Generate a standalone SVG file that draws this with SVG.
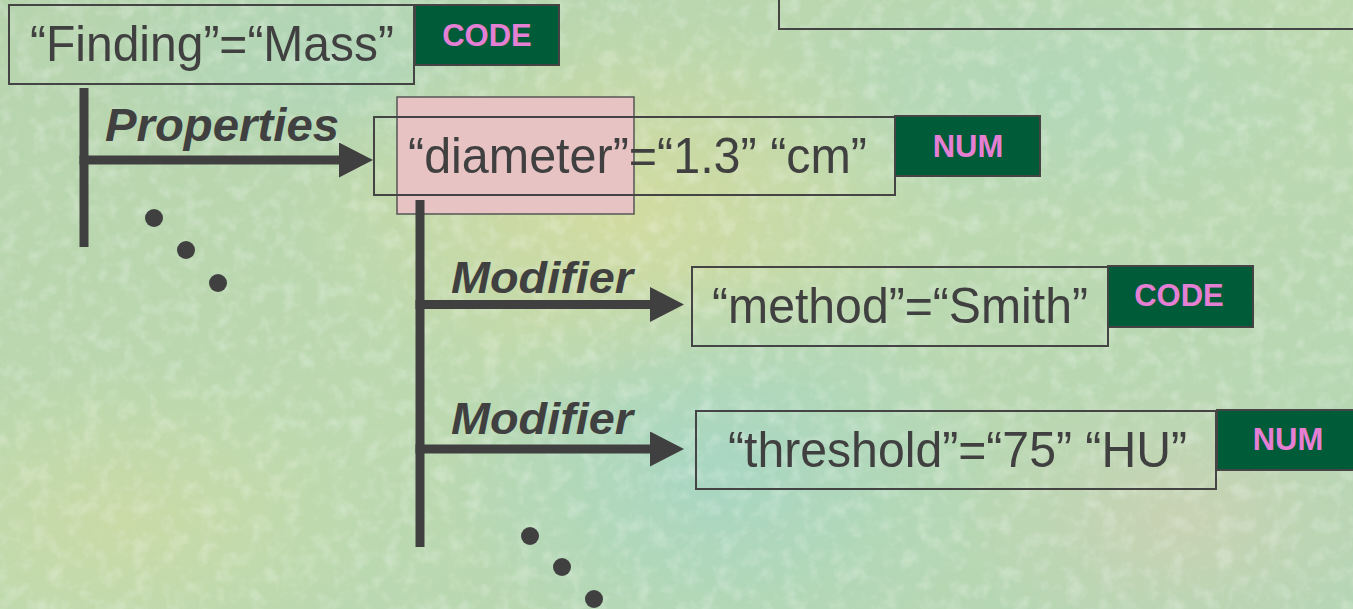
<svg xmlns="http://www.w3.org/2000/svg" width="1353" height="609" viewBox="0 0 1353 609">
  <defs>
    <linearGradient id="bg" x1="0" y1="0" x2="1" y2="1">
      <stop offset="0" stop-color="#b6d4ae"/>
      <stop offset="0.5" stop-color="#bcd9b0"/>
      <stop offset="1" stop-color="#b4d6b4"/>
    </linearGradient>
    <radialGradient id="yel" cx="0.5" cy="0.5" r="0.5">
      <stop offset="0" stop-color="#d8dc9c" stop-opacity="0.8"/>
      <stop offset="1" stop-color="#d8dc9c" stop-opacity="0"/>
    </radialGradient>
    <radialGradient id="cyan" cx="0.5" cy="0.5" r="0.5">
      <stop offset="0" stop-color="#a2d6c8" stop-opacity="0.75"/>
      <stop offset="1" stop-color="#a2d6c8" stop-opacity="0"/>
    </radialGradient>
    <radialGradient id="pinkish" cx="0.5" cy="0.5" r="0.5">
      <stop offset="0" stop-color="#d4d0b4" stop-opacity="0.6"/>
      <stop offset="1" stop-color="#d4d0b4" stop-opacity="0"/>
    </radialGradient>
    <filter id="tex" x="0" y="0" width="100%" height="100%">
      <feTurbulence type="fractalNoise" baseFrequency="0.06" numOctaves="3" seed="7" result="n"/>
      <feColorMatrix in="n" type="matrix" values="0 0 0 0 1  0 0 0 0 1  0 0 0 0 1  0 0 0 -2.4 1.3" result="m"/>
      <feComposite in="m" in2="SourceGraphic" operator="in"/>
    </filter>
    <marker id="head" markerUnits="userSpaceOnUse" markerWidth="36" markerHeight="36" refX="0" refY="17.5" orient="auto" viewBox="0 0 36 36">
      <path d="M0,0 L34,17.5 L0,35 Z" fill="#404040"/>
    </marker>
    <style>
      .box { fill: none; stroke: #444; stroke-width: 2; }
      .tag { fill: #005c38; stroke: #444; stroke-width: 2; }
      .val { font-family: "Liberation Sans", Arial, sans-serif; font-size: 50px; fill: #404040; }
      .tagt { font-family: "Liberation Sans", Arial, sans-serif; font-size: 31px; font-weight: bold; fill: #e57fd4; text-anchor: middle; }
      .lbl { font-family: "Liberation Sans", Arial, sans-serif; font-weight: bold; font-style: italic; fill: #404040; }
      .wire { stroke: #404040; stroke-width: 9; fill: none; }
      .dot { fill: #404040; }
    </style>
  </defs>

  <!-- background -->
  <rect width="1353" height="609" fill="url(#bg)"/>
  <ellipse cx="620" cy="210" rx="330" ry="200" fill="url(#yel)"/>
  <ellipse cx="120" cy="520" rx="260" ry="160" fill="url(#yel)" opacity="0.6"/>
  <ellipse cx="720" cy="470" rx="280" ry="200" fill="url(#cyan)"/>
  <ellipse cx="1050" cy="90" rx="300" ry="140" fill="url(#cyan)" opacity="0.5"/>
  <ellipse cx="330" cy="60" rx="260" ry="120" fill="url(#cyan)" opacity="0.45"/>
  <ellipse cx="1180" cy="520" rx="220" ry="140" fill="url(#pinkish)"/>
  <rect width="1353" height="609" fill="#fff" filter="url(#tex)" opacity="0.25"/>

  <!-- top-right partial box -->
  <g id="partial-box">
    <rect class="box" x="779" y="-20" width="600" height="49"/>
  </g>

  <!-- highlight -->
  <g id="highlight">
    <rect x="397" y="97" width="237" height="117" fill="#e8c3c4" stroke="#555" stroke-width="1.5"/>
  </g>

  <!-- connectors -->
  <g id="connectors">
    <line class="wire" x1="84" y1="88" x2="84" y2="247"/>
    <line class="wire" x1="79.5" y1="160" x2="339" y2="160" marker-end="url(#head)"/>
    <line class="wire" x1="420" y1="200" x2="420" y2="547"/>
    <line class="wire" x1="415.5" y1="304.5" x2="650" y2="304.5" marker-end="url(#head)"/>
    <line class="wire" x1="415.5" y1="449" x2="650" y2="449" marker-end="url(#head)"/>
    <text class="lbl" x="105" y="141" font-size="46" textLength="234" lengthAdjust="spacingAndGlyphs">Properties</text>
    <text class="lbl" x="451" y="293" font-size="44" textLength="182" lengthAdjust="spacingAndGlyphs">Modifier</text>
    <text class="lbl" x="451" y="434" font-size="44" textLength="182" lengthAdjust="spacingAndGlyphs">Modifier</text>
    <circle class="dot" cx="154" cy="218" r="9"/>
    <circle class="dot" cx="186" cy="250" r="9"/>
    <circle class="dot" cx="218" cy="283" r="9"/>
    <circle class="dot" cx="530" cy="536" r="9"/>
    <circle class="dot" cx="562" cy="567" r="9"/>
    <circle class="dot" cx="594" cy="599" r="9"/>
  </g>

  <!-- nodes -->
  <g id="node-finding">
    <rect class="box" x="9" y="5" width="405" height="79"/>
    <text class="val" x="30" y="61" textLength="364" lengthAdjust="spacingAndGlyphs">“Finding”=“Mass”</text>
    <rect class="tag" x="415" y="5" width="144" height="60"/>
    <text class="tagt" x="487" y="46">CODE</text>
  </g>

  <g id="node-diameter">
    <rect class="box" x="374" y="117" width="521" height="78"/>
    <text class="val" x="408" y="173" textLength="459" lengthAdjust="spacingAndGlyphs">“diameter”=“1.3” “cm”</text>
    <rect class="tag" x="895" y="116" width="145" height="60"/>
    <text class="tagt" x="968" y="157">NUM</text>
  </g>

  <g id="node-method">
    <rect class="box" x="692" y="267" width="416" height="79"/>
    <text class="val" x="712" y="323" textLength="376" lengthAdjust="spacingAndGlyphs">“method”=“Smith”</text>
    <rect class="tag" x="1108" y="266" width="145" height="61"/>
    <text class="tagt" x="1179" y="306">CODE</text>
  </g>

  <g id="node-threshold">
    <rect class="box" x="696" y="411" width="520" height="78"/>
    <text class="val" x="728" y="467" textLength="459" lengthAdjust="spacingAndGlyphs">“threshold”=“75” “HU”</text>
    <rect class="tag" x="1217" y="410" width="150" height="60"/>
    <text class="tagt" x="1288" y="450">NUM</text>
  </g>
</svg>
